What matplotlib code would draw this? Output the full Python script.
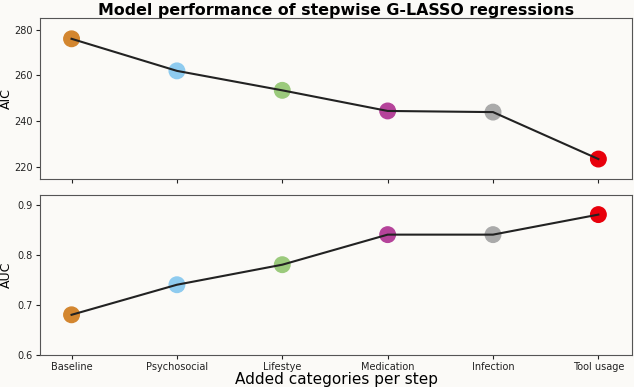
import numpy as np
import matplotlib
matplotlib.use("Agg")
import matplotlib.pyplot as plt

categories = ["Baseline", "Psychosocial", "Lifestye", "Medication", "Infection", "Tool usage"]
aic = [276, 262, 253.5, 244.5, 244, 223.5]
auc = [0.68, 0.74, 0.78, 0.84, 0.84, 0.88]
colors = ["#d3862f", "#8ecbef", "#9bca7c", "#b5439a", "#aaaaaa", "#e8000b"]

bg = "#fbfaf7"
fig, (ax1, ax2) = plt.subplots(2, 1, figsize=(6.34, 3.87), dpi=100, sharex=True)
fig.patch.set_facecolor(bg)
fig.subplots_adjust(left=0.063, right=0.997, top=0.953, bottom=0.083, hspace=0.1)

x = np.arange(len(categories))
for ax, vals in [(ax1, aic), (ax2, auc)]:
    ax.set_facecolor(bg)
    ax.plot(x, vals, color="#222222", lw=1.5, zorder=3)
    ax.scatter(x, vals, c=colors, s=125, zorder=2)
    ax.tick_params(labelsize=7, colors="#222222", pad=2, length=3)
    for s in ax.spines.values():
        s.set_color("#555555")

ax1.set_ylim(215, 285)
ax1.set_yticks([220, 240, 260, 280])
ax1.set_ylabel("AIC", fontsize=9, labelpad=1)
ax1.tick_params(labelbottom=False)
ax1.set_title("Model performance of stepwise G-LASSO regressions", fontsize=11.4,
              fontweight="bold", pad=2)

ax2.set_ylim(0.6, 0.92)
ax2.set_yticks([0.6, 0.7, 0.8, 0.9])
ax2.set_ylabel("AUC", fontsize=9, labelpad=1)
ax2.set_xticks(x)
ax2.set_xticklabels(categories)
ax2.set_xlim(-0.3, 5.32)
ax2.set_xlabel("Added categories per step", fontsize=11, labelpad=0)
ax1.yaxis.set_label_coords(-0.045, 0.5)
ax2.yaxis.set_label_coords(-0.045, 0.5)

fig.savefig("out.png", dpi=100, facecolor=bg)
